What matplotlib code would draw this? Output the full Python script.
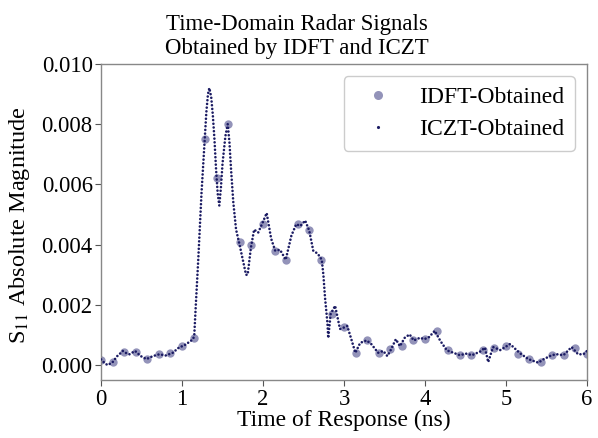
import matplotlib
matplotlib.use("Agg")
import matplotlib.pyplot as plt
from matplotlib.lines import Line2D

# IDFT samples (every 1/7 ns)
idft_t = [0.000, 0.143, 0.286, 0.429, 0.571, 0.714, 0.857, 1.000, 1.143, 1.286,
          1.429, 1.571, 1.714, 1.857, 2.000, 2.143, 2.286, 2.429, 2.571, 2.714,
          2.857, 3.000, 3.143, 3.286, 3.429, 3.571, 3.714, 3.857, 4.000, 4.143,
          4.286, 4.429, 4.571, 4.714, 4.857, 5.000, 5.143, 5.286, 5.429, 5.571,
          5.714, 5.857, 6.000]
idft_v = [0.00016, 0.00009, 0.00045, 0.00045, 0.00020, 0.00036, 0.00040, 0.00063, 0.00091, 0.00750,
          0.00620, 0.00800, 0.00410, 0.00400, 0.00470, 0.00380, 0.00350, 0.00470, 0.00447, 0.00350,
          0.00170, 0.00125, 0.00041, 0.00082, 0.00041, 0.00052, 0.00063, 0.00082, 0.00086, 0.00114,
          0.00049, 0.00033, 0.00033, 0.00050, 0.00058, 0.00063, 0.00038, 0.00020, 0.00010, 0.00033,
          0.00033, 0.00058, 0.00036]

iczt_t = [0.00, 0.04, 0.08, 0.14, 0.20, 0.27, 0.31, 0.35, 0.42, 0.49,
          0.56, 0.64, 0.72, 0.80, 0.885, 0.96, 1.03, 1.09, 1.13, 1.15,
          1.17, 1.20, 1.22, 1.24, 1.26, 1.28, 1.30, 1.32, 1.337, 1.36,
          1.38, 1.40, 1.42, 1.44, 1.46, 1.48, 1.50, 1.535, 1.564, 1.585,
          1.605, 1.633, 1.667, 1.71, 1.75, 1.79, 1.81, 1.85, 1.89, 1.94,
          1.99, 2.045, 2.10, 2.15, 2.21, 2.28, 2.35, 2.41, 2.46, 2.52,
          2.57, 2.62, 2.675, 2.725, 2.745, 2.765, 2.795, 2.805, 2.835, 2.89,
          2.95, 3.00, 3.04, 3.09, 3.14, 3.20, 3.28, 3.34, 3.42, 3.485,
          3.535, 3.58, 3.64, 3.69, 3.75, 3.81, 3.86, 3.94, 3.99, 4.05,
          4.12, 4.19, 4.27, 4.35, 4.43, 4.51, 4.58, 4.68, 4.74, 4.78,
          4.84, 4.93, 5.05, 5.17, 5.275, 5.40, 5.46, 5.565, 5.63, 5.71,
          5.81, 5.89, 5.955, 6.00]
iczt_v = [0.00019, 0.00008, 0.00000, 0.00009, 0.00030, 0.00047, 0.00040, 0.00036, 0.00047, 0.00030,
          0.00020, 0.00030, 0.00036, 0.00032, 0.00041, 0.00058, 0.00066, 0.00077, 0.00085, 0.00095,
          0.00200, 0.00350, 0.00460, 0.00570, 0.00660, 0.00750, 0.00840, 0.00900, 0.00920, 0.00890,
          0.00830, 0.00750, 0.00650, 0.00570, 0.00530, 0.00590, 0.00670, 0.00760, 0.00800, 0.00740,
          0.00650, 0.00540, 0.00450, 0.00400, 0.00350, 0.00300, 0.00300, 0.00390, 0.00450, 0.00440,
          0.00470, 0.00505, 0.00420, 0.00380, 0.00383, 0.00350, 0.00430, 0.00468, 0.00462, 0.00480,
          0.00447, 0.00380, 0.00370, 0.00350, 0.00300, 0.00225, 0.00140, 0.00090, 0.00170, 0.00197,
          0.00120, 0.00125, 0.00130, 0.00086, 0.00041, 0.00074, 0.00082, 0.00069, 0.00041, 0.00047,
          0.00030, 0.00052, 0.00086, 0.00063, 0.00091, 0.00102, 0.00082, 0.00091, 0.00086, 0.00093,
          0.00114, 0.00080, 0.00049, 0.00041, 0.00033, 0.00038, 0.00033, 0.00045, 0.00058, 0.00010,
          0.00060, 0.00050, 0.00070, 0.00040, 0.00020, 0.00008, 0.00019, 0.00033, 0.00036, 0.00033,
          0.00060, 0.00036, 0.00036, 0.00047]

x_ticks = [0, 1, 2, 3, 4, 5, 6]
y_ticks = [0.000, 0.002, 0.004, 0.006, 0.008, 0.010]

plt.rcParams['font.family'] = ['Liberation Serif', 'DejaVu Serif']
plt.rcParams['mathtext.fontset'] = 'stix'

navy = '#1b1b63'
idft_color = '#3a3a80'

fig = plt.figure(figsize=(5.98, 4.38), dpi=100)
ax = fig.add_axes([0.169, 0.132, 0.8126, 0.722])

ax.plot(idft_t, idft_v, 'o', color=idft_color, alpha=0.55, markersize=6,
        markeredgewidth=0, zorder=2)
ax.plot(iczt_t, iczt_v, color=navy, linewidth=1.9, linestyle=(0, (0.01, 1.4)),
        dash_capstyle='round', zorder=3)

ax.set_xlim(0, 6)
ax.set_ylim(-0.00050, 0.0100)
ax.set_xticks(x_ticks)
ax.set_yticks(y_ticks)
ax.set_yticklabels([f'{v:.3f}' for v in y_ticks])
ax.tick_params(labelsize=16.3, direction='out', length=4, width=0.8, color='#555555', pad=2)
for s in ax.spines.values():
    s.set_color('#888888')
    s.set_linewidth(1.0)

ax.set_xlabel('Time of Response (ns)', fontsize=17, labelpad=0)
ax.set_ylabel('S$_{11}$ Absolute Magnitude', fontsize=17.5)
ax.yaxis.set_label_coords(-0.142, 0.49)
ax.set_title('Time-Domain Radar Signals\nObtained by IDFT and ICZT', fontsize=16.5,
             linespacing=1.2, pad=7, x=0.403)

handles = [
    Line2D([], [], marker='o', linestyle='none', color=idft_color, alpha=0.55,
           markersize=6.5, markeredgewidth=0),
    Line2D([], [], marker='.', linestyle='none', color=navy, markersize=2.5),
]
leg = ax.legend(handles, ['IDFT-Obtained', 'ICZT-Obtained'], loc='upper right',
                fontsize=17, handletextpad=0.75, handlelength=2.0, borderpad=0.45,
                labelspacing=0.45, fancybox=True, framealpha=1.0,
                borderaxespad=0, bbox_to_anchor=(0.975, 0.962))
leg.get_frame().set_edgecolor('#cccccc')

fig.savefig('out.png', dpi=100)
